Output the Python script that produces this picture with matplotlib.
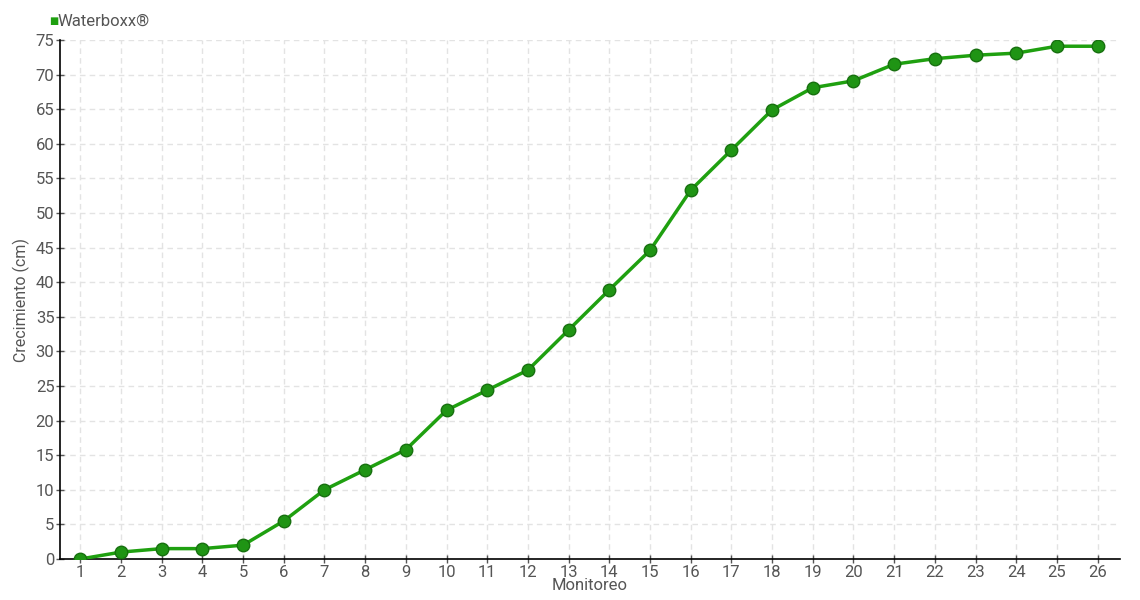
import matplotlib
matplotlib.use("Agg")
import matplotlib.pyplot as plt

# data
monitoreo = list(range(1, 27))
crecimiento = [0.0, 1.0, 1.5, 1.5, 2.0, 5.5, 10.0, 12.9, 15.8, 21.5, 24.4, 27.3, 33.1,
               38.9, 44.6, 53.3, 59.1, 64.9, 68.1, 69.1, 71.5, 72.3, 72.8, 73.1, 74.1, 74.1]
serie = "Waterboxx®"
yticks = list(range(0, 80, 5))

plt.rcParams['font.family'] = ['Roboto', 'DejaVu Sans']
txt = '#555555'

fig = plt.figure(figsize=(11.4, 6), dpi=100)
ax = fig.add_axes([60 / 1140, 41 / 600, 1060 / 1140, 519 / 600])

ax.plot(monitoreo, crecimiento, color='#1fa010', lw=2.5, marker='o', ms=9,
        markerfacecolor='#1f9414', markeredgecolor='#17700f', markeredgewidth=1, zorder=3)

ax.set_xlim(0.5, 26.55)
ax.set_ylim(0, 75)
ax.set_xticks(monitoreo)
ax.set_yticks(yticks)
ax.grid(True, color='#e3e3e3', ls=(0, (4, 3)), lw=1)
for s in ['top', 'right']:
    ax.spines[s].set_visible(False)
for s in ['left', 'bottom']:
    ax.spines[s].set_color('black')
    ax.spines[s].set_linewidth(1.2)
ax.tick_params(axis='both', direction='inout', length=6, width=1, colors='#555555',
               labelsize=12, pad=1)
ax.tick_params(axis='y', pad=1)
ax.set_xlabel('Monitoreo', color=txt, fontsize=12, labelpad=-1)
ax.set_ylabel('Crecimiento (cm)', color=txt, fontsize=11.5, labelpad=4)

# legend
fig.text(49 / 1140, 1 - 21 / 600, '■', color='#1fa010', fontsize=7, va='center', ha='left')
fig.text(58 / 1140, 1 - 21 / 600, serie, color=txt, fontsize=12, va='center', ha='left')

fig.savefig('out.png', dpi=100)
